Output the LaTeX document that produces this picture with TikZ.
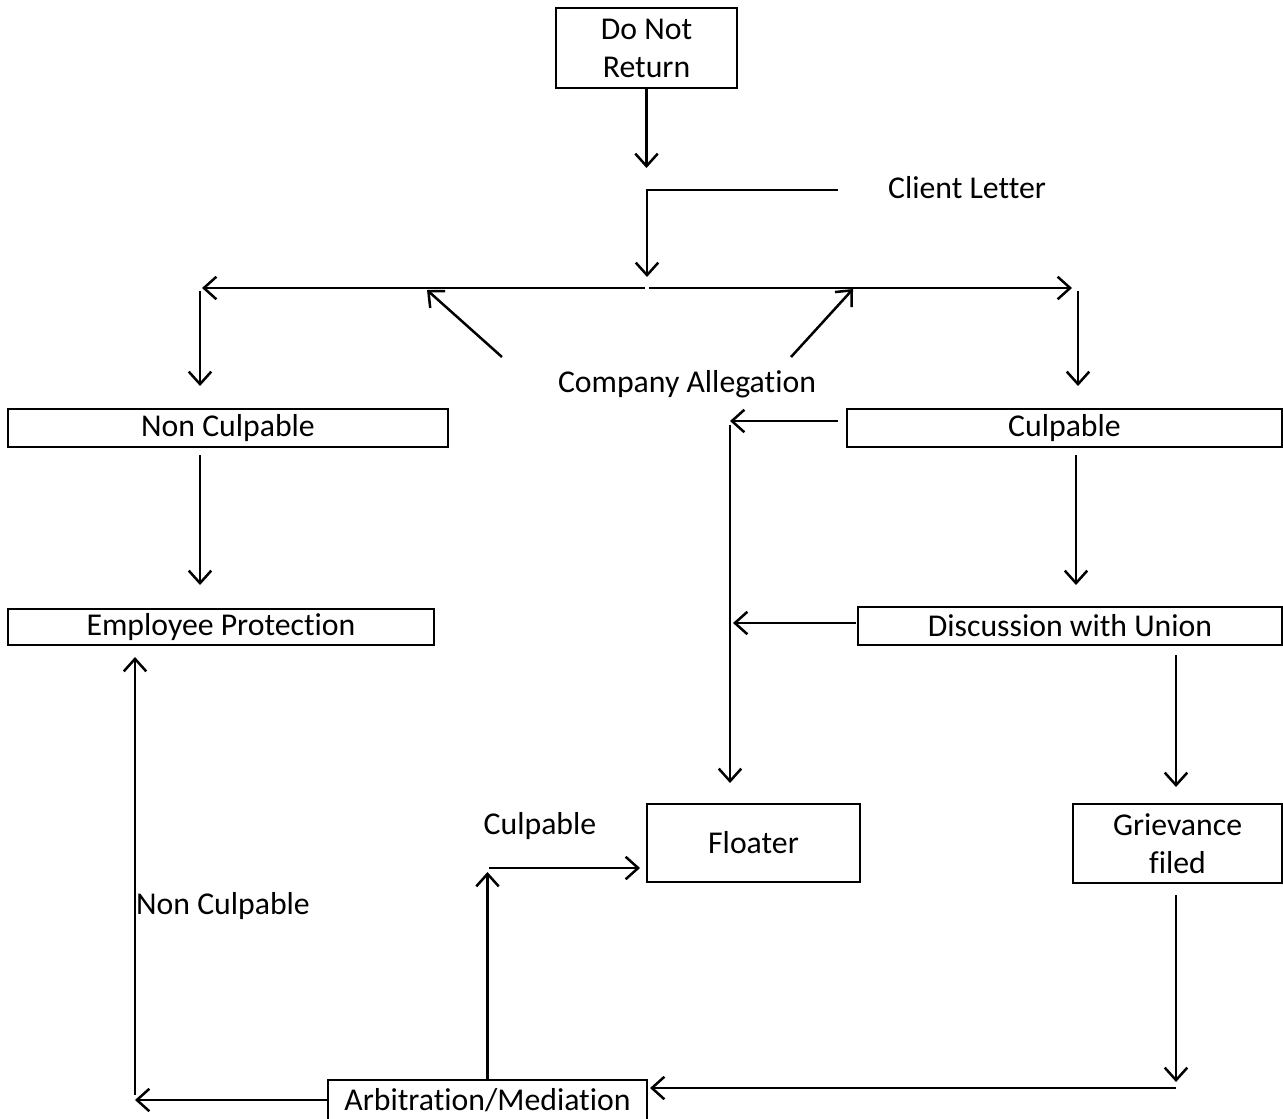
\documentclass[tikz,border=0pt]{standalone}
\usepackage{fontspec}
\setmainfont{Carlito}[Ligatures={NoCommon}]
\usetikzlibrary{arrows.meta}

\begin{document}
\begin{tikzpicture}[x=0.4pt, y=-0.4pt, line width=1pt,
    >={Straight Barb[length=5pt,width=9pt]},
    box/.style={draw, rectangle, inner sep=0pt, align=center, font=\fontsize{12.7}{15.2}\selectfont},
    txt/.style={inner sep=0pt, font=\fontsize{12.7}{15.2}\selectfont}]

    \useasboundingbox (0,0) rectangle (1283,1118);

    % boxes
    \node[box, minimum width=72.4pt, minimum height=32pt] (ret) at (646.5,48) {Do Not\\Return};
    \node[box, minimum width=176pt, minimum height=15.2pt] (noncul) at (228,428) {Non Culpable};
    \node[box, minimum width=174pt, minimum height=15.2pt] (cul) at (1064.5,428) {Culpable};
    \node[box, minimum width=170.4pt, minimum height=14.4pt] (prot) at (221,627) {Employee Protection};
    \node[box, minimum width=169.6pt, minimum height=15.2pt] (union) at (1070,626) {Discussion with Union};
    \node[box, minimum width=85.2pt, minimum height=31.2pt] (floater) at (753.5,843) {Floater};
    \node[box, minimum width=83.6pt, minimum height=31.6pt] (griev) at (1177.5,843.5) {Grievance\\filed};
    \node[box, minimum width=127.6pt, minimum height=16pt] (arb) at (487.5,1100) {Arbitration/Mediation};

    % labels
    \node[txt] (client) at (967,188) {Client Letter};
    \node[txt] (alleg) at (687,384) {Company Allegation};
    \node[txt] (culp) at (540,826) {Culpable};
    \node[txt] (nonculp) at (223,906) {Non Culpable};

    % free ends
    \coordinate (retend) at (646.5,168);
    \coordinate (clstart) at (838,190);
    \coordinate (clbend) at (647,190);
    \coordinate (split) at (647,277);
    \coordinate (midL) at (645,288);
    \coordinate (midR) at (649,288);
    \coordinate (lcorner) at (202,288);
    \coordinate (rcorner) at (1072,288);
    \coordinate (ltop) at (200,291);
    \coordinate (lbot) at (200,386);
    \coordinate (rtop) at (1078,291);
    \coordinate (rbot) at (1078,386);
    \coordinate (ca1) at (502,357);
    \coordinate (ca1end) at (427,290);
    \coordinate (ca2) at (791,357);
    \coordinate (ca2end) at (853,289);
    \coordinate (culout) at (838,421);
    \coordinate (culbend) at (730,421);
    \coordinate (vtop) at (730,425);
    \coordinate (vbot) at (730,783);
    \coordinate (ncdown1) at (200,455);
    \coordinate (ncdown2) at (200,585);
    \coordinate (cudown1) at (1076,455);
    \coordinate (cudown2) at (1076,585);
    \coordinate (unout) at (856,623);
    \coordinate (unend) at (733,623);
    \coordinate (gvtop) at (1176,655);
    \coordinate (gvbot) at (1176,787);
    \coordinate (gvout) at (1176,895);
    \coordinate (gvend) at (1176,1082);
    \coordinate (gvline) at (1176,1088);
    \coordinate (arbin) at (650,1088);
    \coordinate (lcorn2) at (135,1100);
    \coordinate (lup1) at (135,1095);
    \coordinate (lup2) at (135,657);
    \coordinate (arbup) at (487.5,872);
    \coordinate (fstart) at (489,868);
    \coordinate (fend) at (640,868);

    % connectors
    \draw[->] (ret.south) -- (retend);
    \draw[->] (clstart) -- (clbend) -- (split);
    \draw[->] (midL) -- (lcorner);
    \draw[->] (midR) -- (rcorner);
    \draw[->] (ltop) -- (lbot);
    \draw[->] (rtop) -- (rbot);
    \draw[->] (ca1) -- (ca1end);
    \draw[->] (ca2) -- (ca2end);
    \draw[->] (culout) -- (culbend);
    \draw[->] (vtop) -- (vbot);
    \draw[->] (ncdown1) -- (ncdown2);
    \draw[->] (cudown1) -- (cudown2);
    \draw[->] (unout) -- (unend);
    \draw[->] (gvtop) -- (gvbot);
    \draw[->] (gvout) -- (gvend);
    \draw[->] (gvline) -- (arbin);
    \draw[->] (arb.west) -- (lcorn2);
    \draw[->] (lup1) -- (lup2);
    \draw[->] (arb.north) -- (arbup);
    \draw[->] (fstart) -- (fend);
\end{tikzpicture}
\end{document}
